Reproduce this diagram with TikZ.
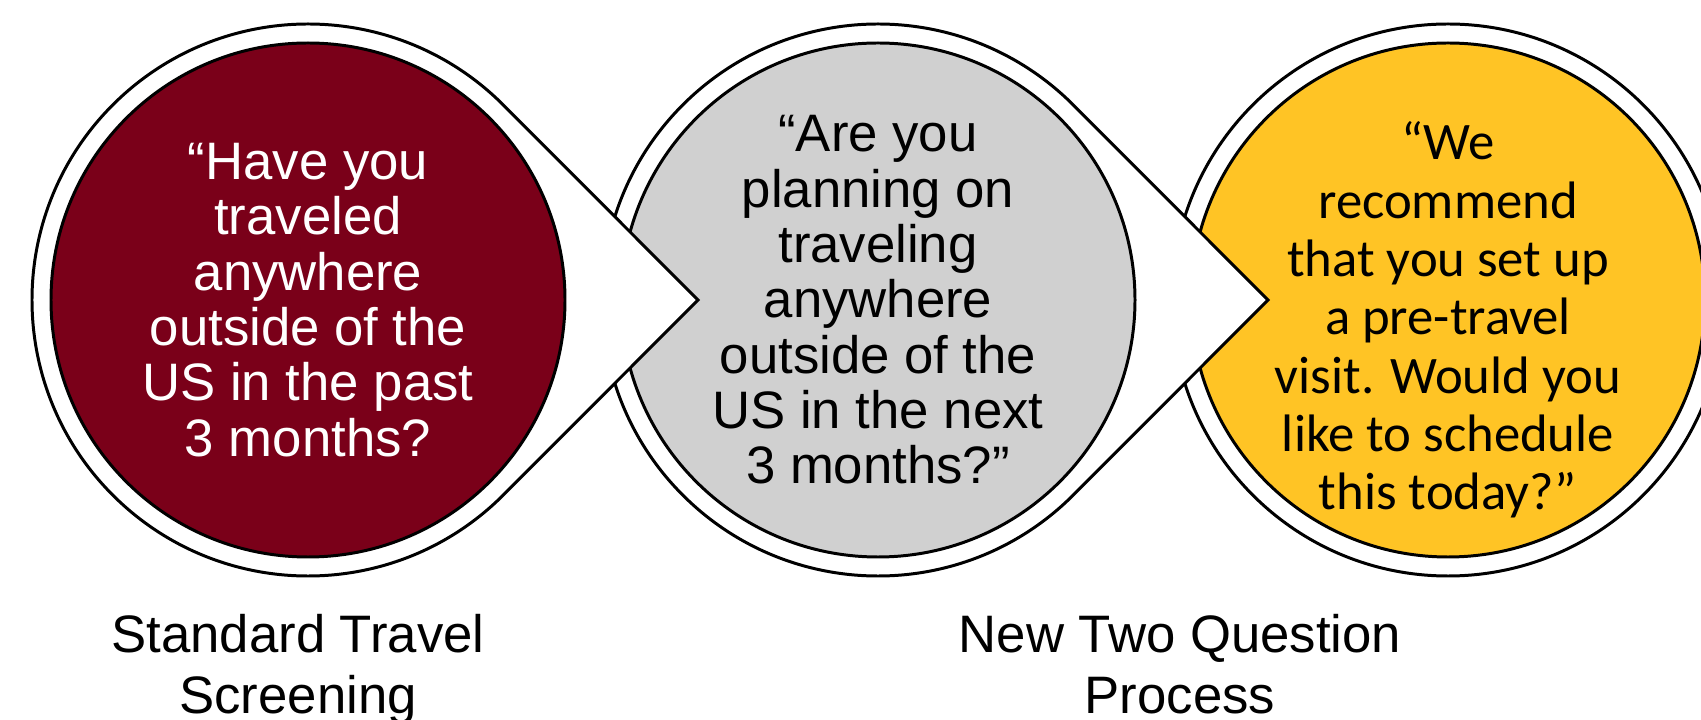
\documentclass[tikz,border=0pt]{standalone}
\usepackage{fontspec}
\setmainfont{Liberation Sans}
\newfontfamily\calibrifont{Carlito}
\usetikzlibrary{calc}
\definecolor{maroon}{RGB}{122, 0, 25}
\definecolor{stepgray}{RGB}{208, 208, 208}
\definecolor{gold}{RGB}{255, 196, 37}

\begin{document}
\begin{tikzpicture}[
    ring/.style={draw=black, fill=white, line width=1.7pt, line join=miter},
    bubble/.style={circle, draw=black, line width=1.7pt, minimum size=10.28cm, inner sep=0pt, outer sep=0pt},
    qtext/.style={align=center, inner sep=0pt, font=\fontsize{30}{31.5}\selectfont},
    caption/.style={font=\fontsize{30}{35}\selectfont, align=center, anchor=south, inner sep=0pt, text depth=0pt}
]
    \useasboundingbox (0, 0) rectangle (34.02, 14.4);

    % Centres of the three steps
    \coordinate (c1) at (6.16, 8.4);
    \coordinate (c2) at (17.56, 8.4);
    \coordinate (c3) at (28.96, 8.4);

    % Third step (last one, no pointer)
    \draw[ring] (c3) circle (5.52cm);
    \node[bubble, fill=gold] (q3) at (c3) {};
    \node[qtext, font=\calibrifont\fontsize{30}{33.2}\selectfont] (t3) at ($(q3)+(0, -0.4)$)
        {“We\\recommend\\that you set up\\a pre-travel\\visit. Would you\\like to schedule\\this today?”};

    % Second step, pointer into the third
    \draw[ring] ($(c2)+(45:5.52)$) arc[start angle=45, end angle=315, radius=5.52cm] -- ($(c2)+(7.8, 0)$) -- cycle;
    \node[bubble, fill=stepgray] (q2) at (c2) {};
    \node[qtext] (t2) at (q2)
        {“Are you\\planning on\\traveling\\anywhere\\outside of the\\US in the next\\3 months?”};

    % First step, pointer into the second
    \draw[ring] ($(c1)+(45:5.52)$) arc[start angle=45, end angle=315, radius=5.52cm] -- ($(c1)+(7.8, 0)$) -- cycle;
    \node[bubble, fill=maroon] (q1) at (c1) {};
    \node[qtext, text=white] (t1) at (q1)
        {“Have you\\traveled\\anywhere\\outside of the\\US in the past\\3 months?};

    % Captions
    \node[caption] (lbl1) at (5.96, 0.12) {Standard Travel\\Screening};
    \node[caption] (lbl2) at (23.6, 0.12) {New Two Question\\Process};
\end{tikzpicture}
\end{document}
